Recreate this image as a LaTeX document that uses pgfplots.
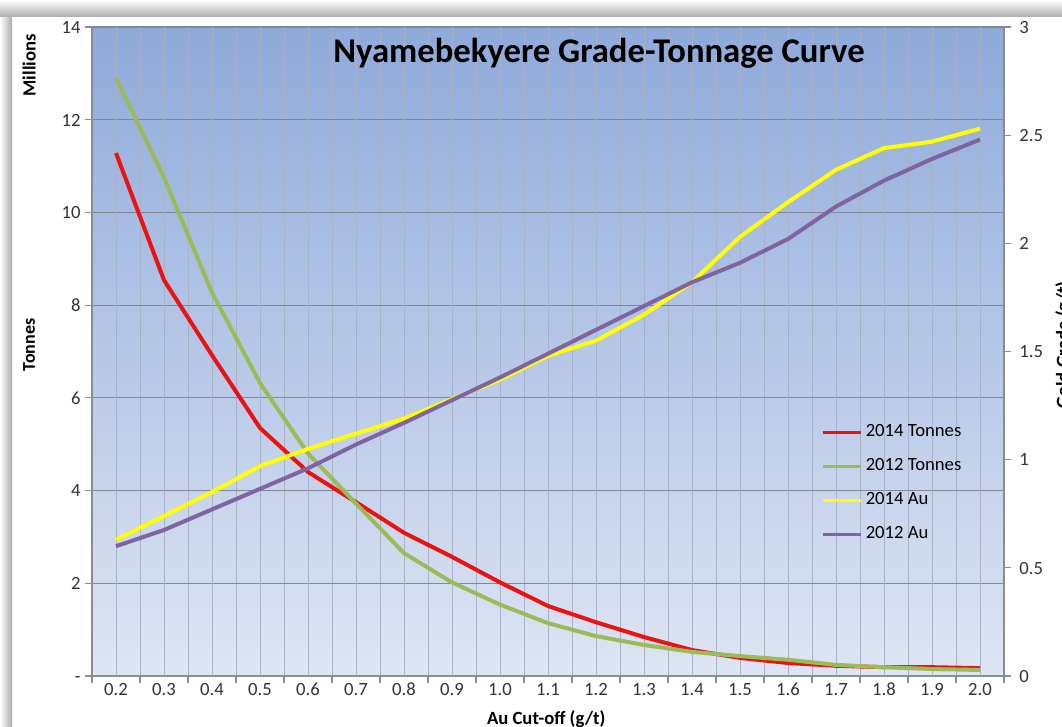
\documentclass[border=0pt]{standalone}
\usepackage{fontspec}
\setmainfont{Carlito}
\usepackage{pgfplots}
\usepackage{pgfplotstable}
\pgfplotsset{compat=1.18}

\definecolor{bgtop}{RGB}{142,170,219}
\definecolor{bgbot}{RGB}{222,229,243}
\definecolor{cRed}{RGB}{235,18,18}
\definecolor{cGreen}{RGB}{155,187,89}
\definecolor{cYellow}{RGB}{255,255,0}
\definecolor{cPurple}{RGB}{128,100,162}
\definecolor{gridv}{RGB}{168,178,198}
\definecolor{gridh}{RGB}{128,136,152}
\definecolor{axgray}{RGB}{140,140,140}

\pgfplotstableread{
x t14 t12 a14 a12
0 11.28 12.90 0.63 0.60
1 8.54 10.75 0.74 0.675
2 6.92 8.27 0.85 0.77
3 5.35 6.32 0.97 0.865
4 4.40 4.80 1.05 0.96
5 3.75 3.72 1.12 1.07
6 3.09 2.65 1.19 1.17
7 2.57 2.02 1.28 1.275
8 2.02 1.54 1.37 1.38
9 1.51 1.14 1.48 1.49
10 1.16 0.86 1.55 1.60
11 0.84 0.67 1.67 1.71
12 0.56 0.52 1.82 1.82
13 0.39 0.43 2.03 1.91
14 0.28 0.35 2.19 2.02
15 0.22 0.24 2.34 2.17
16 0.19 0.19 2.44 2.29
17 0.19 0.15 2.47 2.39
18 0.17 0.13 2.53 2.48
}\datatable

\begin{document}
\begin{tikzpicture}
\path[use as bounding box] (0,0) rectangle (796.5pt,545.25pt);
\fill[white] (0,0) rectangle (796.5pt,545.25pt);
\shade[left color=white, right color=gray!65] (0,0) rectangle (9pt,536pt);
\shade[top color=white, bottom color=gray!65] (0,532.5pt) rectangle (796.5pt,545.25pt);

\begin{axis}[
  at={(69pt,38.25pt)}, anchor=south west,
  scale only axis, width=684pt, height=486.75pt,
  xmin=-0.5, xmax=18.5, ymin=0, ymax=14,
  axis x line*=bottom, axis y line*=left,
  axis line style={axgray, line width=0.8pt},
  axis background/.style={shade, top color=bgtop, bottom color=bgbot},
  xtick={-0.5,0.5,...,18.5}, xticklabels={},
  extra x ticks={0,1,...,18},
  extra x tick labels={0.2,0.3,0.4,0.5,0.6,0.7,0.8,0.9,1.0,1.1,1.2,1.3,1.4,1.5,1.6,1.7,1.8,1.9,2.0},
  extra x tick style={major tick length=0pt, grid=major},
  ytick={0,2,...,14}, yticklabels={-,2,4,6,8,10,12,14},
  tick align=outside, major tick length=5pt,
  tick style={axgray, line width=0.8pt},
  xmajorgrids, ymajorgrids,
  x grid style={gridv, line width=0.7pt},
  y grid style={gridh, line width=0.8pt},
  /pgf/number format/assume math mode=true,
  tick label style={font=\fontsize{14}{16}\selectfont, text=black!80, text height=9.5pt, text depth=0pt},
  xticklabel style={yshift=-1.5pt},
  ylabel={\textbf{Tonnes}},
  ylabel style={at={(axis description cs:-0.069,0.51)}, anchor=center, font=\fontsize{13.5}{16}\selectfont},
  xlabel={\textbf{Au Cut-off (g/t)}},
  xlabel style={at={(axis description cs:0.498,-0.066)}, anchor=center, font=\fontsize{14}{16}\selectfont},
  clip=false,
]
\addplot[cRed, line width=3pt] table[x=x, y=t14] {\datatable};
\addplot[cGreen, line width=3pt] table[x=x, y=t12] {\datatable};
\node[rotate=90, font=\fontsize{14}{16}\selectfont\bfseries] at (axis description cs:-0.069,0.941) {Millions};
\node[font=\fontsize{26}{30}\selectfont\bfseries] at (axis description cs:0.556,0.960) {Nyamebekyere Grade-Tonnage Curve};
\node[rotate=90, font=\fontsize{14}{16}\selectfont\bfseries] at (axis description cs:1.0655,0.51) {Gold Grade (g/t)};
\end{axis}

\begin{axis}[
  at={(69pt,38.25pt)}, anchor=south west,
  scale only axis, width=684pt, height=486.75pt,
  xmin=-0.5, xmax=18.5, ymin=0, ymax=3,
  axis x line=none, axis y line*=right,
  axis line style={axgray, line width=0.8pt},
  ytick={0,0.5,...,3}, yticklabels={0,0.5,1,1.5,2,2.5,3},
  tick align=outside, major tick length=5pt,
  tick style={axgray, line width=0.8pt},
  /pgf/number format/assume math mode=true,
  tick label style={font=\fontsize{14}{16}\selectfont, text=black!80, text height=9.5pt, text depth=0pt},
  yticklabel style={xshift=3pt},
  legend style={at={(axis description cs:0.800,0.394)}, anchor=north west, draw=none, fill=none,
    font=\fontsize{14}{16}\selectfont, row sep=8pt, inner sep=0pt,
    nodes={text height=10pt, text depth=3.5pt, inner sep=2pt}},
  legend cell align=left,
  legend image code/.code={\draw[#1, line width=2.4pt] (0pt,0pt) -- (28.5pt,0pt);},
  clip=false,
]
\addlegendimage{cRed}
\addlegendentry{2014 Tonnes}
\addlegendimage{cGreen}
\addlegendentry{2012 Tonnes}
\addplot[cYellow, line width=3pt] table[x=x, y=a14] {\datatable};
\addlegendentry{2014 Au}
\addplot[cPurple, line width=3pt] table[x=x, y=a12] {\datatable};
\addlegendentry{2012 Au}
\end{axis}
\end{tikzpicture}
\end{document}
